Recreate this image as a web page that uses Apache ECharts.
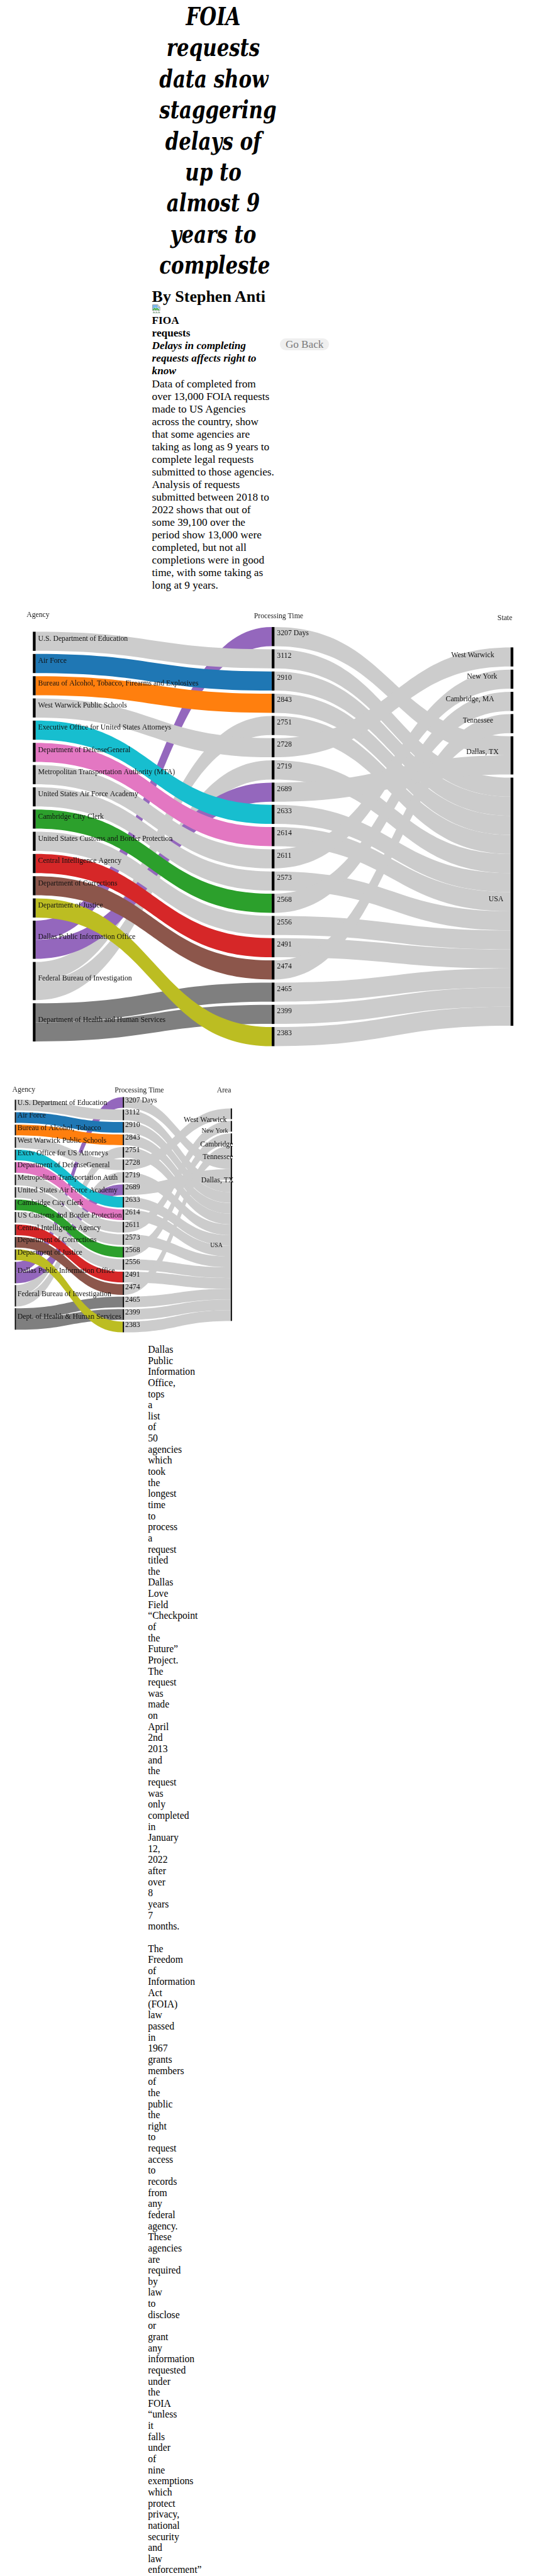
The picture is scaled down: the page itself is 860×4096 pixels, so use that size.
<!DOCTYPE html>
<html>
<head>
<meta charset="utf-8">
<title>FOIA requests data show staggering delays</title>
<script src="https://cdn.jsdelivr.net/npm/echarts@6/dist/echarts.min.js"></script>
<style>
:root{--s:0.98;}
html,body{margin:0;padding:0;background:#fff;}
body{position:relative;width:860px;height:4096px;overflow:hidden;font-family:"Liberation Serif","Times New Roman",serif;color:#000;}
.a{position:absolute;white-space:nowrap;margin:0;}
#title{left:calc(246px*var(--s));top:calc(1.6px*var(--s));width:calc(200px*var(--s));text-align:center;font-family:"DejaVu Serif Condensed","DejaVu Serif",serif;font-stretch:semi-condensed;font-weight:bold;font-style:italic;font-size:calc(40px*var(--s));line-height:calc(50.5px*var(--s));transform-origin:50% 0;}
#byline{left:calc(246.5px*var(--s));top:calc(466.8px*var(--s));font-weight:bold;font-size:calc(26.5px*var(--s));line-height:calc(30px*var(--s));}
#icon{left:calc(246px*var(--s));top:calc(492.5px*var(--s));width:calc(16px*var(--s));height:calc(16px*var(--s));}
#intro{left:calc(246.5px*var(--s));top:calc(510.5px*var(--s));font-size:calc(17.6px*var(--s));line-height:calc(20.45px*var(--s));}
#goback{left:calc(454px*var(--s));top:calc(549.3px*var(--s));width:calc(80px*var(--s));height:calc(19px*var(--s));border-radius:calc(10px*var(--s));background:#efefef;color:#7a7a7a;font-size:calc(17.5px*var(--s));line-height:calc(20px*var(--s));text-align:center;}
#chart1{left:0;top:calc(985px*var(--s));width:calc(877px*var(--s));height:calc(725px*var(--s));}
#chart2{left:0;top:calc(1750px*var(--s));width:calc(440px*var(--s));height:calc(425px*var(--s));}
#story{left:calc(240px*var(--s));top:calc(2180.6px*var(--s));width:1px;white-space:normal;font-size:calc(16px*var(--s));line-height:calc(18px*var(--s));}
#story p{margin:0;}
#story p+p{margin-top:calc(18px*var(--s));}
</style>
</head>
<body>
<h1 id="title" class="a">FOIA<br>requests<br>data show<br>staggering<br>delays of<br>up to<br>almost 9<br>years to<br>compleste</h1>
<h2 id="byline" class="a">By Stephen Anti</h2>
<svg id="icon" class="a" viewBox="0 0 16 16"><path d="M1.5 1.5h8.5l3.5 3.5v6l-2 1-2-1.5-2 1.5-2-1.5-2 1.5-2-1z" fill="#fff" stroke="#a0a0a0"/><path d="M10 1.5v3.5h3.5" fill="none" stroke="#a0a0a0"/><path d="M2 9l3-3 2 2 2-1.5 3.5 3v1l-1.5.5-2-1.5-2 1.5-2-1.5-2 1.5-1-.5z" fill="#4caf50"/><path d="M2 2h7.5v3.5h3.5v3l-3.5-2.5-2 1.5-2-2-3.5 3z" fill="#7ab8f0"/><path d="M2 14.5l2-1 2 1.5 2-1.5 2 1.5 2-1.5 1.5.8v.7h-11.5z" fill="#4caf50" stroke="#a0a0a0" stroke-width="0.6"/></svg>
<div id="intro" class="a"><b>FIOA<br>requests</b><br><b><i>Delays in completing<br>requests affects right to<br>know</i></b><br>Data of completed from<br>over 13,000 FOIA requests<br>made to US Agencies<br>across the country, show<br>that some agencies are<br>taking as long as 9 years to<br>complete legal requests<br>submitted to those agencies.<br>Analysis of requests<br>submitted between 2018 to<br>2022 shows that out of<br>some 39,100 over the<br>period show 13,000 were<br>completed, but not all<br>completions were in good<br>time, with some taking as<br>long at 9 years.</div>
<div id="goback" class="a">Go Back</div>
<div id="chart1" class="a"></div>
<div id="chart2" class="a"></div>
<div id="story" class="a">
<p>Dallas Public Information Office, tops a list of 50 agencies which took the longest time to process a request titled the Dallas Love Field “Checkpoint of the Future” Project. The request was made on April 2nd 2013 and the request was only completed in January 12, 2022 after over 8 years 7 months.</p>
<p>The Freedom of Information Act (FOIA) law passed in 1967 grants members of the public the right to request access to records from any federal agency. These agencies are required by law to disclose or grant any information requested under the FOIA “unless it falls under of nine exemptions which protect privacy, national security and law enforcement”</p>
</div>
<script>
// ---------------- data ----------------
const agencies = ["U.S. Department of Education","Air Force","Bureau of Alcohol, Tobacco, Firearms and Explosives","West Warwick Public Schools","Executive Office for United States Attorneys","Department of DefenseGeneral","Metropolitan Transportation Authority (MTA)","United States Air Force Academy","Cambridge City Clerk","United States Customs and Border Protection","Central Intelligence Agency","Department of Corrections","Department of Justice","Dallas Public Information Office","Federal Bureau of Investigation","Department of Health and Human Services"];
const agencyShort = ["U.S. Department of Education","Air Force","Bureau of Alcohol, Tobacco","West Warwick Public Schools","Exctv Office for US Attorneys","Department of DefenseGeneral","Metropolitan Transportation Auth","United States Air Force Academy","Cambridge City Clerk","US Customs and Border Protection","Central Intelligence Agency","Department of Corrections","Department of Justice","Dallas Public Information Office","Federal Bureau of Investigation","Dept. of Health & Human Services"];
const processingDays = ["3207 Days","3112","2910","2843","2751","2728","2719","2689","2633","2614","2611","2573","2568","2556","2491","2474","2465","2399","2383"];
const states = ["West Warwick","New York","Cambridge, MA","Tennessee","Dallas, TX","USA"];
const areas = ["West Warwick","New York","Cambridge","Tennessee","Dallas, TX","USA"];
// for each processing-time entry: which agency, which state, how many requests
const requestAgency = [13,0,1,2,14,3,14,13,4,5,6,7,8,9,10,11,15,15,12];
const requestState  = [4,5,5,5,5,0,5,4,5,5,1,5,2,5,5,3,5,5,5];
const requestCount  = [1,1,1,1,1,1,1,1,1,1,1,1,1,1,1,1,1,1,1];

// ---------------- styles ----------------
const S = 0.98;
const agencyColors = ["#cccccc","#1f77b4","#ff7f0e","#cccccc","#17becf","#e377c2","#cccccc","#cccccc","#2ca02c","#cccccc","#d62728","#8c564b","#bcbd22","#9467bd","#cccccc","#7f7f7f"];
const flowGray = "#cccccc";
const FONT = "Liberation Serif";

// title width check: if no condensed face is installed, narrow the title to the reference width
(function(){
  const cv = document.createElement('canvas').getContext('2d');
  const fs = (40*S)+'px ';
  cv.font = 'italic bold '+fs+'"DejaVu Serif Condensed", "DejaVu Serif"';
  const w1 = cv.measureText('staggering').width;
  const target = 190*S;
  if (w1 > target*1.04) {
    document.getElementById('title').style.transform = 'scaleX('+(target/w1).toFixed(3)+')';
  }
})();

function sum(a){return a.reduce((x,y)=>x+y,0);}

function build(cfg){
  const A = cfg.agencyNames, T = processingDays, R = cfg.stateNames;
  const aVal = A.map((_,i)=>sum(requestCount.filter((c,k)=>requestAgency[k]===i)));
  const tVal = requestCount.slice();
  const rVal = R.map((_,i)=>sum(requestCount.filter((c,k)=>requestState[k]===i)));
  const H = cfg.height*S, gap = cfg.nodeGap*S;
  const cols = [aVal,tVal,rVal];
  const ky = Math.min(...cols.map(c=>(H-(c.length-1)*gap)/sum(c)));
  // centre each column vertically (like d3-sankey)
  const ly = cols.map(c=>{const tot=sum(c)*ky+(c.length-1)*gap; let y=(H-tot)/2; return c.map(v=>{const r=y/H; y+=v*ky+gap; return r;});});
  const nodes = [];
  A.forEach((n,i)=>nodes.push({name:n, localY:ly[0][i], label:{position:'right', distance:cfg.l0[0]*S, offset:[0,cfg.l0[1]*S]}}));
  T.forEach((n,i)=>nodes.push({name:n, localY:ly[1][i], label:{position:'right', distance:cfg.l1[0]*S, offset:[0,cfg.l1[1]*S]}}));
  R.forEach((n,i)=>{const st=cfg.l2[i]; nodes.push({name:n, localY:ly[2][i], label:{position:'left', distance:0, align:'right', offset:[-st[0]*S, st[1]*S], fontSize:st[2]*S}});});
  const links = [];
  T.forEach((t,k)=>links.push({source:A[requestAgency[k]], target:t, value:requestCount[k], lineStyle:{color:agencyColors[requestAgency[k]]}}));
  T.forEach((t,k)=>links.push({source:t, target:R[requestState[k]], value:requestCount[k], lineStyle:{color:flowGray}}));
  return {
    animation:false,
    graphic: cfg.headers.map(h=>({type:'text', x:h[1]*S, y:h[2]*S, silent:true, style:{text:h[0], x:0, y:0, fill:'#222', font:(12*S)+'px "'+FONT+'"', verticalAlign:'middle', align:'left'}})),
    series:[{
      type:'sankey', silent:true, draggable:false,
      left:cfg.left*S, top:cfg.top*S, width:cfg.width*S, height:H,
      nodeWidth:cfg.nodeWidth*S, nodeGap:gap, layoutIterations:0, nodeAlign:'justify',
      emphasis:{disabled:true},
      itemStyle:{color:'#000', borderWidth:0},
      lineStyle:{curveness:0.5, opacity:1},
      label:{show:true, fontFamily:FONT, fontSize:12*S, color:'#111'},
      data:nodes, links:links
    }]
  };
}

const c1 = echarts.init(document.getElementById('chart1'), null, {renderer:'canvas'});
c1.setOption(build({
  agencyNames:agencies, stateNames:states,
  left:53.3, top:32.7, width:779.4, height:680, nodeWidth:4.5, nodeGap:5.08,
  l0:[4,-4], l1:[4,-5],
  l2:[[26.6,-3,12],[21.6,-4,12],[26.6,-3,12],[28.3,-4.5,12],[19.3,-5,12],[11.6,-4,12]],
  headers:[["Agency",43,13.3],["Processing Time",412,15],["State",807,18.3]]
}));

const c2 = echarts.init(document.getElementById('chart2'), null, {renderer:'canvas'});
c2.setOption(build({
  agencyNames:agencyShort, stateNames:areas,
  left:24, top:30, width:352.3, height:381.7, nodeWidth:2, nodeGap:2.84,
  l0:[2.3,-3], l1:[2,-3.5],
  l2:[[6.6,9.8,12],[4.3,7.3,10.5],[-3.7,9.9,12],[-3.7,9.8,12],[-4.7,18,12],[13.3,-9.8,10]],
  headers:[["Agency",20,18],["Processing Time",186,19],["Area",351.7,19]]
}));
</script>
</body>
</html>
